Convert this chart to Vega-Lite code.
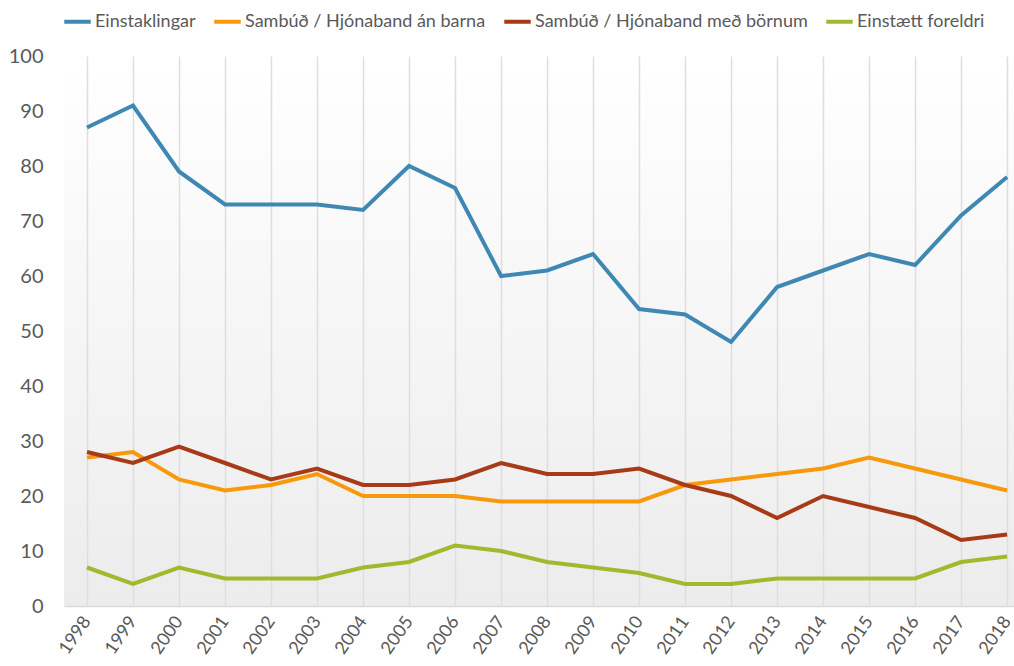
{
  "$schema": "https://vega.github.io/schema/vega-lite/v6.json",
  "width": 950,
  "height": 550,
  "autosize": {"type": "none"},
  "padding": {"left": 64, "top": 56, "right": 0, "bottom": 60},
  "background": "white",
  "config": {
    "font": "Lato",
    "view": {
      "stroke": null,
      "fill": {"gradient": "linear", "x1": 0, "y1": 0, "x2": 0, "y2": 1,
        "stops": [{"offset": 0, "color": "#ffffff"}, {"offset": 1, "color": "#ececec"}]}
    }
  },
  "datasets": {
    "d": [
      {"year": 1998, "s": "Einstaklingar", "v": 87},
      {"year": 1999, "s": "Einstaklingar", "v": 91},
      {"year": 2000, "s": "Einstaklingar", "v": 79},
      {"year": 2001, "s": "Einstaklingar", "v": 73},
      {"year": 2002, "s": "Einstaklingar", "v": 73},
      {"year": 2003, "s": "Einstaklingar", "v": 73},
      {"year": 2004, "s": "Einstaklingar", "v": 72},
      {"year": 2005, "s": "Einstaklingar", "v": 80},
      {"year": 2006, "s": "Einstaklingar", "v": 76},
      {"year": 2007, "s": "Einstaklingar", "v": 60},
      {"year": 2008, "s": "Einstaklingar", "v": 61},
      {"year": 2009, "s": "Einstaklingar", "v": 64},
      {"year": 2010, "s": "Einstaklingar", "v": 54},
      {"year": 2011, "s": "Einstaklingar", "v": 53},
      {"year": 2012, "s": "Einstaklingar", "v": 48},
      {"year": 2013, "s": "Einstaklingar", "v": 58},
      {"year": 2014, "s": "Einstaklingar", "v": 61},
      {"year": 2015, "s": "Einstaklingar", "v": 64},
      {"year": 2016, "s": "Einstaklingar", "v": 62},
      {"year": 2017, "s": "Einstaklingar", "v": 71},
      {"year": 2018, "s": "Einstaklingar", "v": 78},
      {"year": 1998, "s": "Sambúð / Hjónaband án barna", "v": 27},
      {"year": 1999, "s": "Sambúð / Hjónaband án barna", "v": 28},
      {"year": 2000, "s": "Sambúð / Hjónaband án barna", "v": 23},
      {"year": 2001, "s": "Sambúð / Hjónaband án barna", "v": 21},
      {"year": 2002, "s": "Sambúð / Hjónaband án barna", "v": 22},
      {"year": 2003, "s": "Sambúð / Hjónaband án barna", "v": 24},
      {"year": 2004, "s": "Sambúð / Hjónaband án barna", "v": 20},
      {"year": 2005, "s": "Sambúð / Hjónaband án barna", "v": 20},
      {"year": 2006, "s": "Sambúð / Hjónaband án barna", "v": 20},
      {"year": 2007, "s": "Sambúð / Hjónaband án barna", "v": 19},
      {"year": 2008, "s": "Sambúð / Hjónaband án barna", "v": 19},
      {"year": 2009, "s": "Sambúð / Hjónaband án barna", "v": 19},
      {"year": 2010, "s": "Sambúð / Hjónaband án barna", "v": 19},
      {"year": 2011, "s": "Sambúð / Hjónaband án barna", "v": 22},
      {"year": 2012, "s": "Sambúð / Hjónaband án barna", "v": 23},
      {"year": 2013, "s": "Sambúð / Hjónaband án barna", "v": 24},
      {"year": 2014, "s": "Sambúð / Hjónaband án barna", "v": 25},
      {"year": 2015, "s": "Sambúð / Hjónaband án barna", "v": 27},
      {"year": 2016, "s": "Sambúð / Hjónaband án barna", "v": 25},
      {"year": 2017, "s": "Sambúð / Hjónaband án barna", "v": 23},
      {"year": 2018, "s": "Sambúð / Hjónaband án barna", "v": 21},
      {"year": 1998, "s": "Sambúð / Hjónaband með börnum", "v": 28},
      {"year": 1999, "s": "Sambúð / Hjónaband með börnum", "v": 26},
      {"year": 2000, "s": "Sambúð / Hjónaband með börnum", "v": 29},
      {"year": 2001, "s": "Sambúð / Hjónaband með börnum", "v": 26},
      {"year": 2002, "s": "Sambúð / Hjónaband með börnum", "v": 23},
      {"year": 2003, "s": "Sambúð / Hjónaband með börnum", "v": 25},
      {"year": 2004, "s": "Sambúð / Hjónaband með börnum", "v": 22},
      {"year": 2005, "s": "Sambúð / Hjónaband með börnum", "v": 22},
      {"year": 2006, "s": "Sambúð / Hjónaband með börnum", "v": 23},
      {"year": 2007, "s": "Sambúð / Hjónaband með börnum", "v": 26},
      {"year": 2008, "s": "Sambúð / Hjónaband með börnum", "v": 24},
      {"year": 2009, "s": "Sambúð / Hjónaband með börnum", "v": 24},
      {"year": 2010, "s": "Sambúð / Hjónaband með börnum", "v": 25},
      {"year": 2011, "s": "Sambúð / Hjónaband með börnum", "v": 22},
      {"year": 2012, "s": "Sambúð / Hjónaband með börnum", "v": 20},
      {"year": 2013, "s": "Sambúð / Hjónaband með börnum", "v": 16},
      {"year": 2014, "s": "Sambúð / Hjónaband með börnum", "v": 20},
      {"year": 2015, "s": "Sambúð / Hjónaband með börnum", "v": 18},
      {"year": 2016, "s": "Sambúð / Hjónaband með börnum", "v": 16},
      {"year": 2017, "s": "Sambúð / Hjónaband með börnum", "v": 12},
      {"year": 2018, "s": "Sambúð / Hjónaband með börnum", "v": 13},
      {"year": 1998, "s": "Einstætt foreldri", "v": 7},
      {"year": 1999, "s": "Einstætt foreldri", "v": 4},
      {"year": 2000, "s": "Einstætt foreldri", "v": 7},
      {"year": 2001, "s": "Einstætt foreldri", "v": 5},
      {"year": 2002, "s": "Einstætt foreldri", "v": 5},
      {"year": 2003, "s": "Einstætt foreldri", "v": 5},
      {"year": 2004, "s": "Einstætt foreldri", "v": 7},
      {"year": 2005, "s": "Einstætt foreldri", "v": 8},
      {"year": 2006, "s": "Einstætt foreldri", "v": 11},
      {"year": 2007, "s": "Einstætt foreldri", "v": 10},
      {"year": 2008, "s": "Einstætt foreldri", "v": 8},
      {"year": 2009, "s": "Einstætt foreldri", "v": 7},
      {"year": 2010, "s": "Einstætt foreldri", "v": 6},
      {"year": 2011, "s": "Einstætt foreldri", "v": 4},
      {"year": 2012, "s": "Einstætt foreldri", "v": 4},
      {"year": 2013, "s": "Einstætt foreldri", "v": 5},
      {"year": 2014, "s": "Einstætt foreldri", "v": 5},
      {"year": 2015, "s": "Einstætt foreldri", "v": 5},
      {"year": 2016, "s": "Einstætt foreldri", "v": 5},
      {"year": 2017, "s": "Einstætt foreldri", "v": 8},
      {"year": 2018, "s": "Einstætt foreldri", "v": 9}
    ]
  },
  "data": {"name": "d"},
  "mark": {"type": "line", "strokeWidth": 4, "strokeJoin": "miter"},
  "encoding": {
    "x": {
      "field": "year", "type": "quantitative",
      "scale": {"domain": [1997.5, 2018.15], "nice": false, "zero": false},
      "axis": {
        "title": null,
        "values": [1998, 1999, 2000, 2001, 2002, 2003, 2004, 2005, 2006, 2007, 2008, 2009, 2010, 2011, 2012, 2013, 2014, 2015, 2016, 2017, 2018],
        "format": "d",
        "labelAngle": -55,
        "labelAlign": "right",
        "labelBaseline": "middle",
        "labelFontSize": 18,
        "labelColor": "#595959",
        "labelPadding": 12,
        "labelFlush": false,
        "labelOverlap": false,
        "ticks": false,
        "domainColor": "#d9d9d9",
        "domainWidth": 1.5,
        "grid": true,
        "gridColor": "#dedede",
        "gridWidth": 1.5
      }
    },
    "y": {
      "field": "v", "type": "quantitative",
      "scale": {"domain": [0, 100], "nice": false},
      "axis": {
        "title": null,
        "values": [0, 10, 20, 30, 40, 50, 60, 70, 80, 90, 100],
        "labelFontSize": 20,
        "labelColor": "#595959",
        "labelPadding": 21,
        "ticks": false,
        "domain": false,
        "grid": false
      }
    },
    "color": {
      "field": "s", "type": "nominal",
      "scale": {
        "domain": ["Einstaklingar", "Sambúð / Hjónaband án barna", "Sambúð / Hjónaband með börnum", "Einstætt foreldri"],
        "range": ["#3f88b4", "#f7990b", "#a83b17", "#a2b82d"]
      },
      "legend": {
        "title": null,
        "orient": "none",
        "direction": "horizontal",
        "legendX": -2,
        "legendY": -50,
        "symbolType": "stroke",
        "symbolStrokeWidth": 4,
        "symbolSize": 700,
        "labelFontSize": 18,
        "labelLimit": 500,
        "labelColor": "#595959",
        "labelOffset": 2,
        "columnPadding": 10
      }
    }
  }
}
